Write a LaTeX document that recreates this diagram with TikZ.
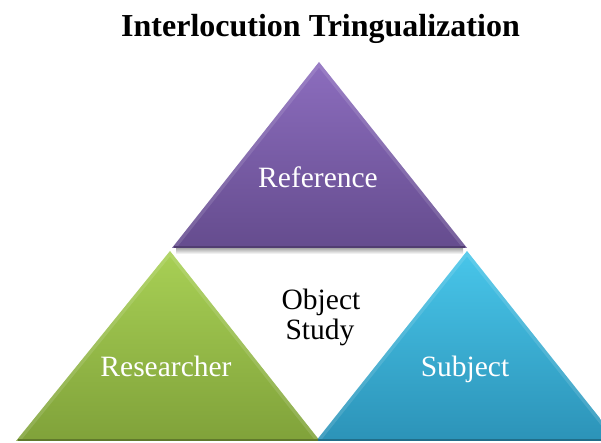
\documentclass[tikz,border=0pt]{standalone}
\usepackage{fontspec}
\setmainfont{Liberation Serif}
\usetikzlibrary{calc}
\definecolor{purTop}{HTML}{8C6DBE}
\definecolor{purBot}{HTML}{654C8E}
\definecolor{grnTop}{HTML}{A8D055}
\definecolor{grnBot}{HTML}{80A23A}
\definecolor{bluTop}{HTML}{48C6EA}
\definecolor{bluBot}{HTML}{2C93B8}
\begin{document}
\begin{tikzpicture}[x=1pt,y=1pt,
  lbl/.style={font=\fontsize{29.5}{31}\selectfont, text=white, anchor=base, inner sep=0pt},
  lblblack/.style={font=\fontsize{29.5}{31}\selectfont, text=black, anchor=base, inner sep=0pt},
  titlestyle/.style={font=\fontsize{32}{34}\selectfont\bfseries, text=black, anchor=base, inner sep=0pt},
  tri/.style={draw=none},
  bevel/.style={white, opacity=0.12, line width=7pt, line join=miter}]
\useasboundingbox (0,0) rectangle (601,443);
\clip (0,0) rectangle (601,443);
% coordinates
\coordinate (pA) at (319,381);
\coordinate (pL) at (172,195);
\coordinate (pR) at (467,195);
\coordinate (gA) at (170,192);
\coordinate (gL) at (16,2);
\coordinate (gR) at (320,2);
\coordinate (bA) at (467,192);
\coordinate (bL) at (316,2);
\coordinate (bR) at (618,2);
% shadow below purple
\shade[top color=gray!70, bottom color=white] (176,195) rectangle (463,189);
% triangles
\shade[tri, top color=purTop, bottom color=purBot] (pA) -- (pR) -- (pL) -- cycle;
\shade[tri, top color=grnTop, bottom color=grnBot] (gA) -- (gR) -- (gL) -- cycle;
\shade[tri, top color=bluTop, bottom color=bluBot] (bA) -- (bR) -- (bL) -- cycle;
% bevel edges
\begin{scope}
\clip (pA) -- (pR) -- (pL) -- cycle;
\draw[bevel] (pL) -- (pA) -- (pR);
\end{scope}
\begin{scope}
\clip (gA) -- (gR) -- (gL) -- cycle;
\draw[bevel] (gL) -- (gA) -- (gR);
\end{scope}
\begin{scope}
\clip (bA) -- (bR) -- (bL) -- cycle;
\draw[bevel] (bL) -- (bA) -- (bR);
\end{scope}
\draw[purBot!80!black, line width=2pt] ($(pL)+(2,1)$) -- ($(pR)+(-2,1)$);
\draw[grnBot!75!black, line width=2.5pt] ($(gL)+(2,1.2)$) -- ($(gR)+(-2,1.2)$);
\draw[bluBot!75!black, line width=2.5pt] ($(bL)+(2,1.2)$) -- ($(bR)+(-2,1.2)$);
% labels
\node[titlestyle] (title) at (320.5,406.3) {Interlocution Tringualization};
\node[lbl] (ref) at (318,255) {Reference};
\node[lbl] (res) at (166,66.3) {Researcher};
\node[lbl] (sub) at (465,66.3) {Subject};
\node[lblblack] (obj) at (321,133) {Object};
\node[lblblack] (stu) at (320,103) {Study};
\end{tikzpicture}
\end{document}
